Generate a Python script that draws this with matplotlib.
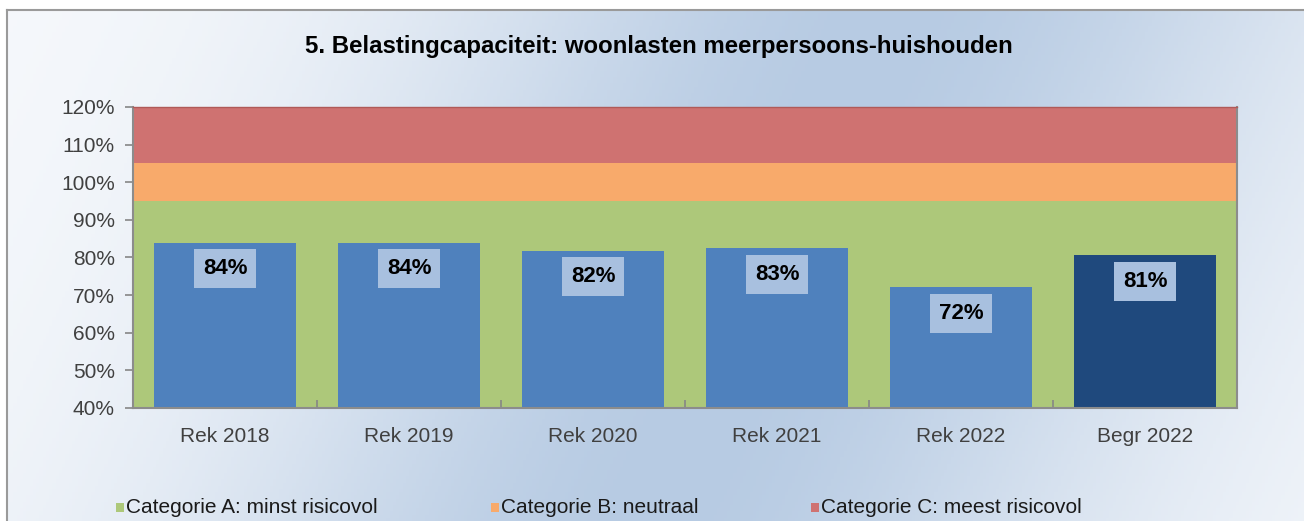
import numpy as np
import matplotlib
matplotlib.use("Agg")
import matplotlib.pyplot as plt
from matplotlib.patches import Rectangle
from matplotlib.colors import to_rgb

plt.rcParams['font.family'] = ['Liberation Sans', 'DejaVu Sans']

# ---- data ----
categories = ["Rek 2018", "Rek 2019", "Rek 2020", "Rek 2021", "Rek 2022", "Begr 2022"]
values = [83.9, 83.9, 81.8, 82.4, 72.1, 80.6]
value_labels = ["84%", "84%", "82%", "83%", "72%", "81%"]
bar_colors = ["#4f81bd", "#4f81bd", "#4f81bd", "#4f81bd", "#4f81bd", "#1f497d"]
band_names = ["Categorie A: minst risicovol", "Categorie B: neutraal", "Categorie C: meest risicovol"]
band_lower = [40, 95, 105]
band_upper = [95, 105, 120]
band_colors = ["#adc87a", "#f8aa6b", "#cf7271"]
y_ticks = [40, 50, 60, 70, 80, 90, 100, 110, 120]
title = "5. Belastingcapaciteit: woonlasten meerpersoons-huishouden"

W, H = 1304, 521
fig = plt.figure(figsize=(W / 100, H / 100), dpi=100)
fig.patch.set_facecolor("white")

# ---- background gradient ----
bg = fig.add_axes([7 / W, 0, 1 - 7 / W, 1 - 10 / H], zorder=-10)
nx, ny = 400, 160
xs = np.linspace(0, 1, nx)
ys = np.linspace(0, 1, ny)  # 0 = top
X, Y = np.meshgrid(xs, ys)
d = X - (0.68 - 0.18 * Y)
I = np.exp(-(d / 0.36) ** 2)
c_white = np.array(to_rgb("#f7f9fc"))
c_blue = np.array(to_rgb("#b7cbe3"))
img = c_white[None, None, :] * (1 - I[..., None]) + c_blue[None, None, :] * I[..., None]
bg.imshow(img, aspect="auto", extent=[0, 1, 0, 1], origin="upper")
bg.set_xlim(0, 1)
bg.set_ylim(0, 1)
bg.axis("off")
fig.add_artist(plt.Line2D([7 / W, 1], [1 - 10 / H, 1 - 10 / H], color="#9a9a9a", lw=1.5))
fig.add_artist(plt.Line2D([7 / W, 7 / W], [0, 1 - 10 / H], color="#9a9a9a", lw=1.5))

# ---- main axes ----
ax = fig.add_axes([133 / W, 1 - 408 / H, (1237 - 133) / W, (408 - 107) / H])
ax.set_xlim(-0.5, len(categories) - 0.5)
ax.set_ylim(40, 120)
for lo, hi, c in zip(band_lower, band_upper, band_colors):
    ax.axhspan(lo, hi, color=c, zorder=0, lw=0)

x = np.arange(len(categories))
ax.bar(x, values, width=0.77, bottom=0, color=bar_colors, zorder=2)

for xi, v, lab in zip(x, values, value_labels):
    ax.text(xi, v - 6.9, lab, ha="center", va="center", fontsize=16, fontweight="bold",
            color="black", zorder=3,
            bbox=dict(boxstyle="square,pad=0.4", facecolor="#a8c0df", edgecolor="none"))

ax.set_yticks(y_ticks)
ax.set_yticklabels([f"{t}%" for t in y_ticks])
ax.set_xticks(x)
ax.set_xticklabels(categories)
ax.set_xticks(np.arange(0.5, len(categories) - 1, 1), minor=True)
ax.tick_params(axis="y", direction="out", length=6, width=1.2, color="#868686",
               labelsize=15, labelcolor="#404040", pad=7)
ax.tick_params(axis="x", which="major", length=0, labelsize=15, labelcolor="#404040", pad=14)
ax.tick_params(axis="x", which="minor", direction="in", length=6, width=1.2, color="#868686")
for side, sp in ax.spines.items():
    sp.set_color("#8c8c8c")
    sp.set_linewidth(1.5)
ax.spines["top"].set_color("#b05a58")
ax.spines["top"].set_linewidth(1.0)
ax.set_facecolor("none")

# ---- title ----
fig.text(659 / W, 1 - 46 / H, title, ha="center", va="center", fontsize=17.3,
         fontweight="bold", color="black")

# ---- legend (manual) ----
leg_x = [116, 491, 811]
leg_y = 507.5
for lx, name, c in zip(leg_x, band_names, band_colors):
    fig.add_artist(Rectangle((lx / W, 1 - (leg_y + 4.5) / H), 8 / W, 9 / H,
                             transform=fig.transFigure, facecolor=c, edgecolor="none"))
    fig.text((lx + 10) / W, 1 - leg_y / H, name, ha="left", va="center",
             fontsize=15, color="#1a1a1a")

fig.savefig("out.png", dpi=100)
